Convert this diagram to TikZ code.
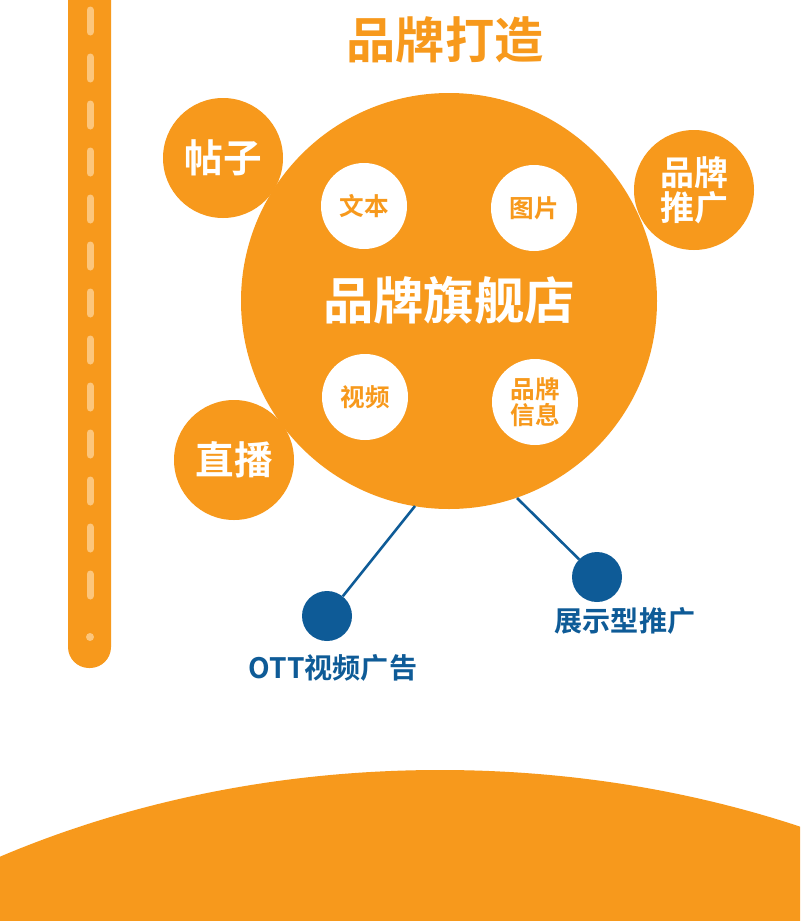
\documentclass[tikz,border=0pt]{standalone}
\usepackage{fontspec}
\newfontfamily\cjk{Noto Sans CJK SC Bold}
\definecolor{org}{HTML}{F7991C}
\definecolor{lorg}{HTML}{FCC67C}
\definecolor{blu}{HTML}{0E5B97}
\tikzset{
 big/.style={circle,fill=org,minimum size=416*0.03cm,inner sep=0},
 sat/.style={circle,fill=org,minimum size=120*0.03cm,inner sep=0,text=white,font=\cjk\fontsize{33}{33}\selectfont,align=center},
 wht/.style={circle,fill=white,minimum size=86*0.03cm,inner sep=0,text=org,font=\cjk\fontsize{21}{22}\selectfont,align=center},
 dot/.style={circle,fill=blu,minimum size=50*0.03cm,inner sep=0},
 lab/.style={text=blu,font=\cjk\fontsize{24}{26}\selectfont},
 conn/.style={blu,line width=2.2pt}
}
\begin{document}
\begin{tikzpicture}[x=0.03cm,y=-0.03cm]
\useasboundingbox (0,0) rectangle (800,921);
\fill[white] (0,0) rectangle (800,921);
\begin{scope}
\clip (0,0) rectangle (800,921);
\fill[org] (440,1450) ellipse [x radius=900,y radius=680];
\fill[org,rounded corners=21*0.03cm] (68,-30) rectangle (111,668);
\end{scope}
\draw[lorg,line width=7*0.03cm,line cap=round,dash pattern=on 22*0.03cm off 25*0.03cm] (90,10) -- (90,615);
\fill[lorg] (90,637) circle (4);
\node[text=org,font=\cjk\fontsize{42}{44}\selectfont] (title) at (445,40) {品牌打造};
\node[big] (main) at (449,301) {};
\node[text=white,font=\cjk\fontsize{43}{45}\selectfont] (mt) at (449,300) {品牌旗舰店};
\node[wht] (w1) at (364,206) {文本};
\node[wht] (w2) at (534,208) {图片};
\node[wht] (w3) at (365,397) {视频};
\node[wht] (w4) at (535,402) {品牌\\信息};
\node[sat,font=\cjk\fontsize{29}{30}\selectfont] (s2) at (694,190) {品牌\\推广};
\node[sat] (s1) at (223,158) {帖子};
\node[sat] (s3) at (234,460) {直播};
\node[dot] (d1) at (327,616) {};
\node[dot] (d2) at (597,577) {};
\coordinate (c1) at (415,506);
\coordinate (c2) at (517,498);
\draw[conn] (c1) -- (d1);
\draw[conn] (c2) -- (d2);
\node[lab] (l1) at (333,668) {OTT视频广告};
\node[lab] (l2) at (625,621) {展示型推广};
\end{tikzpicture}
\end{document}
